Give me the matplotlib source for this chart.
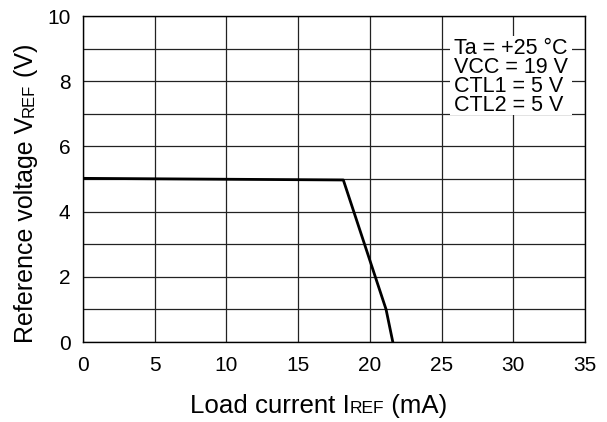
import numpy as np
import matplotlib
matplotlib.use('Agg')
import matplotlib.pyplot as plt
from matplotlib.patches import Rectangle

plt.rcParams['font.family'] = ['Liberation Sans', 'DejaVu Sans']

# load regulation curve, I_REF (mA) vs V_REF (V)
current_ma = [0.0, 18.15, 21.13, 21.6]
voltage_v = [5.02, 4.97, 1.0, 0.0]

x_ticks = [0, 5, 10, 15, 20, 25, 30, 35]
y_ticks = [0, 2, 4, 6, 8, 10]
conditions = ['Ta = +25 °C', 'VCC = 19 V', 'CTL1 = 5 V', 'CTL2 = 5 V']

W, H = 607, 422
fig = plt.figure(figsize=(W / 100, H / 100), dpi=100)
ax = fig.add_axes([83 / W, 1 - 342 / H, (585 - 83) / W, (342 - 16) / H])

ax.set_xlim(0, 35)
ax.set_ylim(0, 10)
ax.set_xticks(x_ticks)
ax.set_yticks(y_ticks)
ax.set_yticks(np.arange(1, 10, 2), minor=True)
ax.tick_params(which='both', length=0, labelsize=15)
ax.tick_params(axis='x', pad=10)
ax.tick_params(axis='y', pad=9)
ax.grid(which='both', color='#222222', lw=0.9)
for s in ax.spines.values():
    s.set_color('black')
    s.set_linewidth(1.0)

ax.plot(current_ma, voltage_v, color='black', lw=2.0, zorder=3)

# white panel holding the test conditions
ax.add_patch(Rectangle((25.6, 6.95), 8.5, 2.45, facecolor='white',
                       edgecolor='none', zorder=2))
for i, line in enumerate(conditions):
    ax.text(25.85, 8.83 - i * 0.585, line, fontsize=15.5, va='baseline',
            ha='left', zorder=4)

# axis labels with small-caps style "REF" on the baseline
fig.canvas.draw()
r = fig.canvas.get_renderer()

xl = fig.text(190 / W, 1 - 413 / H, 'Load current I', fontsize=18.6,
              ha='left', va='baseline')
w1 = xl.get_window_extent(r).width
xs = fig.text((190 + w1) / W, 1 - 413 / H, 'REF', fontsize=12.5,
              ha='left', va='baseline')
w2 = xs.get_window_extent(r).width
fig.text((190 + w1 + w2) / W, 1 - 413 / H, ' (mA)', fontsize=18.6,
         ha='left', va='baseline')

yl = fig.text(33.5 / W, 1 - 343 / H, 'Reference voltage V', fontsize=18,
              rotation=90, rotation_mode='anchor', ha='left', va='baseline')
h1 = yl.get_window_extent(r).height
ys = fig.text(33.5 / W, 1 - (343 - h1) / H, 'REF', fontsize=12,
              rotation=90, rotation_mode='anchor', ha='left', va='baseline')
h2 = ys.get_window_extent(r).height
fig.text(33.5 / W, 1 - (343 - h1 - h2) / H, ' (V)', fontsize=18,
         rotation=90, rotation_mode='anchor', ha='left', va='baseline')

fig.savefig('out.png', dpi=100)
